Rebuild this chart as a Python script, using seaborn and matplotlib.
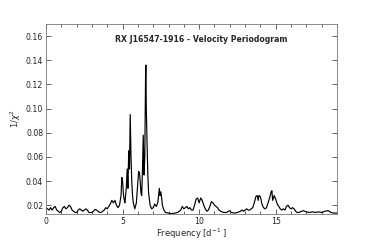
import numpy as np
import pandas as pd
import matplotlib
matplotlib.use("Agg")
import matplotlib.pyplot as plt
import seaborn as sns
from matplotlib.ticker import MultipleLocator

# periodogram
freq = [0.0, 0.1, 0.2, 0.3, 0.4, 0.5, 0.6, 0.7, 0.8, 0.9,
        1.0, 1.1, 1.2, 1.3, 1.4, 1.5, 1.6, 1.7, 1.8, 1.9,
        2.0, 2.1, 2.2, 2.3, 2.4, 2.5, 2.6, 2.7, 2.8, 2.9,
        3.0, 3.1, 3.2, 3.3, 3.4, 3.5, 3.6, 3.7, 3.8, 3.9,
        4.0, 4.1, 4.2, 4.3, 4.4, 4.5, 4.6, 4.7, 4.8, 4.9,
        4.95, 5.0, 5.05, 5.1, 5.15, 5.2, 5.25, 5.3, 5.35, 5.4,
        5.45, 5.5, 5.55, 5.6, 5.65, 5.7, 5.8, 5.9, 6.0, 6.05,
        6.1, 6.15, 6.2, 6.25, 6.3, 6.35, 6.4, 6.45, 6.5, 6.52,
        6.55, 6.6, 6.65, 6.7, 6.8, 6.9, 7.0, 7.1, 7.2, 7.3,
        7.4, 7.45, 7.5, 7.55, 7.6, 7.7, 7.8, 8.0, 8.2, 8.4,
        8.6, 8.8, 8.9, 9.0, 9.1, 9.2, 9.3, 9.4, 9.5, 9.6,
        9.7, 9.8, 9.9, 10.0, 10.1, 10.2, 10.3, 10.4, 10.5, 10.6,
        10.7, 10.8, 10.9, 11.0, 11.1, 11.2, 11.3, 11.4, 11.6, 11.8,
        11.9, 12.0, 12.1, 12.3, 12.5, 12.7, 12.8, 12.9, 13.0, 13.1,
        13.2, 13.3, 13.5, 13.6, 13.7, 13.8, 13.85, 13.9, 14.0, 14.1,
        14.2, 14.3, 14.4, 14.5, 14.6, 14.7, 14.75, 14.8, 14.9, 15.0,
        15.1, 15.2, 15.3, 15.4, 15.5, 15.6, 15.7, 15.8, 15.9, 16.0,
        16.1, 16.2, 16.3, 16.4, 16.5, 16.7, 16.8, 16.9, 17.0, 17.2,
        17.4, 17.6, 17.8, 18.0, 18.2, 18.4, 18.5, 18.6, 18.8, 19.0]
power = [0.018, 0.017, 0.016, 0.018, 0.016, 0.018, 0.019, 0.016, 0.015, 0.014,
         0.015, 0.018, 0.019, 0.017, 0.018, 0.020, 0.019, 0.016, 0.015, 0.014,
         0.014, 0.016, 0.017, 0.016, 0.015, 0.016, 0.017, 0.016, 0.014, 0.014,
         0.014, 0.015, 0.0165, 0.016, 0.015, 0.014, 0.014, 0.015, 0.016, 0.018,
         0.017, 0.019, 0.021, 0.024, 0.022, 0.024, 0.020, 0.018, 0.020, 0.028,
         0.043, 0.040, 0.030, 0.025, 0.022, 0.028, 0.036, 0.050, 0.034, 0.065,
         0.050, 0.095, 0.060, 0.040, 0.028, 0.022, 0.017, 0.022, 0.040, 0.048,
         0.047, 0.040, 0.030, 0.028, 0.050, 0.078, 0.045, 0.060, 0.125, 0.136,
         0.100, 0.070, 0.045, 0.030, 0.020, 0.017, 0.018, 0.021, 0.019, 0.022,
         0.034, 0.028, 0.031, 0.026, 0.020, 0.016, 0.014, 0.0135, 0.013, 0.0135,
         0.014, 0.016, 0.019, 0.017, 0.018, 0.019, 0.017, 0.018, 0.016, 0.016,
         0.020, 0.025, 0.026, 0.022, 0.026, 0.024, 0.020, 0.017, 0.015, 0.016,
         0.019, 0.023, 0.022, 0.020, 0.019, 0.018, 0.016, 0.015, 0.014, 0.014,
         0.015, 0.0155, 0.014, 0.0135, 0.014, 0.015, 0.016, 0.015, 0.016, 0.017,
         0.016, 0.016, 0.018, 0.022, 0.027, 0.028, 0.024, 0.028, 0.027, 0.021,
         0.018, 0.017, 0.018, 0.022, 0.026, 0.031, 0.032, 0.024, 0.028, 0.025,
         0.021, 0.019, 0.017, 0.016, 0.017, 0.016, 0.019, 0.020, 0.018, 0.017,
         0.018, 0.017, 0.015, 0.014, 0.014, 0.015, 0.0155, 0.015, 0.0145, 0.014,
         0.0145, 0.014, 0.0145, 0.014, 0.015, 0.0155, 0.015, 0.014, 0.0135, 0.0135]

df = pd.DataFrame({"freq": freq, "power": power})

sns.set_style("ticks")
fig = plt.figure(figsize=(3.74, 2.42), dpi=100)
ax = fig.add_axes([0.123, 0.116, 0.778, 0.785])

sns.lineplot(data=df, x="freq", y="power", color="black", linewidth=0.85, ax=ax)

ax.set_xlim(0, 19)
ax.set_ylim(0.0128, 0.17)
ax.xaxis.set_major_locator(MultipleLocator(5))
ax.xaxis.set_minor_locator(MultipleLocator(1))
ax.set_yticks([0.02, 0.04, 0.06, 0.08, 0.10, 0.12, 0.14, 0.16])
ax.tick_params(which="both", direction="in", top=True, right=True,
               labelsize=5.6, width=0.5, colors="#222222", pad=2)
ax.tick_params(which="major", length=3.5)
ax.tick_params(which="minor", length=2)
for s in ax.spines.values():
    s.set_linewidth(0.6)
    s.set_color("#777777")

ax.set_xlabel("Frequency [d$^{-1}$ ]", fontsize=6, labelpad=1)
ax.set_ylabel("1/$\\chi^2$", fontsize=6, labelpad=2)
ax.text(0.533, 0.92, "RX J16547-1916 - Velocity Periodogram", transform=ax.transAxes,
        ha="center", va="center", fontsize=5.6, fontweight="bold")

fig.savefig("out.png", dpi=100)
